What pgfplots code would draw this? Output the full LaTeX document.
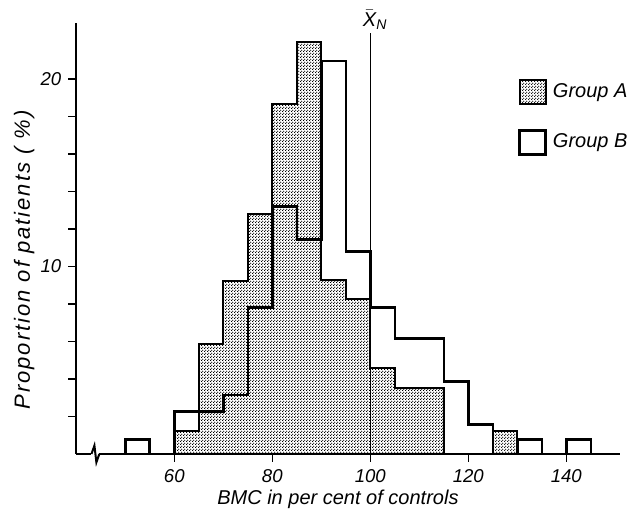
\documentclass[border=0pt]{standalone}
\usepackage{fontspec}
\setmainfont{Liberation Sans}
\newfontfamily\widesans[LetterSpace=9]{Liberation Sans}
\usepackage{pgfplots}
\pgfplotsset{compat=1.18}
\usetikzlibrary{patterns.meta}

% fine dot screen for group A
\tikzdeclarepattern{
  name=fdots,
  type=uncolored,
  bounding box={(0pt,0pt) and (1.5pt,1.5pt)},
  tile size={(1.5pt,1.5pt)},
  code={
    \fill (0.375pt,0.375pt) circle (0.42pt);
    \fill (1.125pt,1.125pt) circle (0.42pt);
  }
}

\begin{document}
\begin{tikzpicture}
\begin{axis}[
  x=2.45pt, y=9.375pt,
  xmin=40, xmax=151, ymin=0, ymax=23,
  axis lines=left,
  axis line style={-, line width=1pt},
  clip=false,
  no markers,
  xtick={60,80,...,140},
  ytick={2,4,...,20},
  yticklabels={,,,,10,,,,,20},
  tick style={black, line width=0.8pt},
  tick align=outside,
  major tick length=4pt,
  tick label style={font=\fontsize{9.3}{11}\selectfont\itshape},
  /pgf/number format/assume math mode=true,
  xlabel={\itshape BMC in per cent of controls},
  ylabel={\fontsize{11}{13}\selectfont\widesans\itshape Proportion of patients ( \%)},
  xlabel style={at={(axis description cs:0.481,-0.106)}, anchor=center},
  ylabel style={at={(axis description cs:-0.096,0.45)}, anchor=center},
  legend style={draw=none, fill=none, at={(axis description cs:0.812,0.873)},
    anchor=north west, inner sep=0pt, row sep=10.5pt, font=\itshape,
    nodes={inner sep=3pt, anchor=west}},
  legend cell align=left,
  legend image code/.code={\draw[#1] (0pt,-6pt) rectangle (13pt,6pt);},
]
% group A
\addplot[const plot, draw=black, line width=1pt, pattern=fdots, pattern color=black]
  coordinates {(60,0) (60,1.25) (65,5.85) (70,9.25) (75,12.8) (80,18.65) (85,21.95)
               (90,9.3) (95,8.25) (100,4.6) (105,3.5) (110,3.5) (115,0)} -- cycle;
\addplot[const plot, draw=black, line width=1pt, pattern=fdots, pattern color=black, forget plot]
  coordinates {(125,0) (125,1.22) (130,0)} -- cycle;
% mean of normals
\addplot[black, line width=0.8pt, forget plot] coordinates {(100,0) (100,22.45)};
% group B
\addplot[const plot, draw=black, line width=1.3pt, fill=none]
  coordinates {(60,0) (60,2.25) (65,2.25) (70,3.15) (75,7.82) (80,13.2) (85,11.45)
               (90,20.96) (95,10.8) (100,7.82) (105,6.15) (110,6.15) (115,3.85)
               (120,1.57) (125,0)};
\addplot[const plot, draw=black, line width=1.3pt, forget plot] coordinates {(50,0) (50,0.78) (55,0)};
\addplot[const plot, draw=black, line width=1.3pt, forget plot] coordinates {(130,0) (130,0.78) (135,0)};
\addplot[const plot, draw=black, line width=1.3pt, forget plot] coordinates {(140,0) (140,0.78) (145,0)};
\legend{Group A, Group B}

\node[anchor=south, inner sep=1pt] at (axis cs:101,22.5) {\itshape$\bar{\hbox{X}}$\textsubscript{N}};
% axis break
\fill[white] (axis cs:43.1,-0.15) rectangle (axis cs:44.7,0.15);
\draw[line width=1pt] (axis cs:43.1,0) -- (axis cs:43.7,0.45) -- (axis cs:44.1,-0.45) -- (axis cs:44.7,0);

\coordinate (bbl) at (axis cs:24.43,-2.99);
\coordinate (btr) at (axis cs:155.24,24.21);
\end{axis}
\pgfresetboundingbox
\path[use as bounding box] (bbl) rectangle (btr);
\end{tikzpicture}
\end{document}
